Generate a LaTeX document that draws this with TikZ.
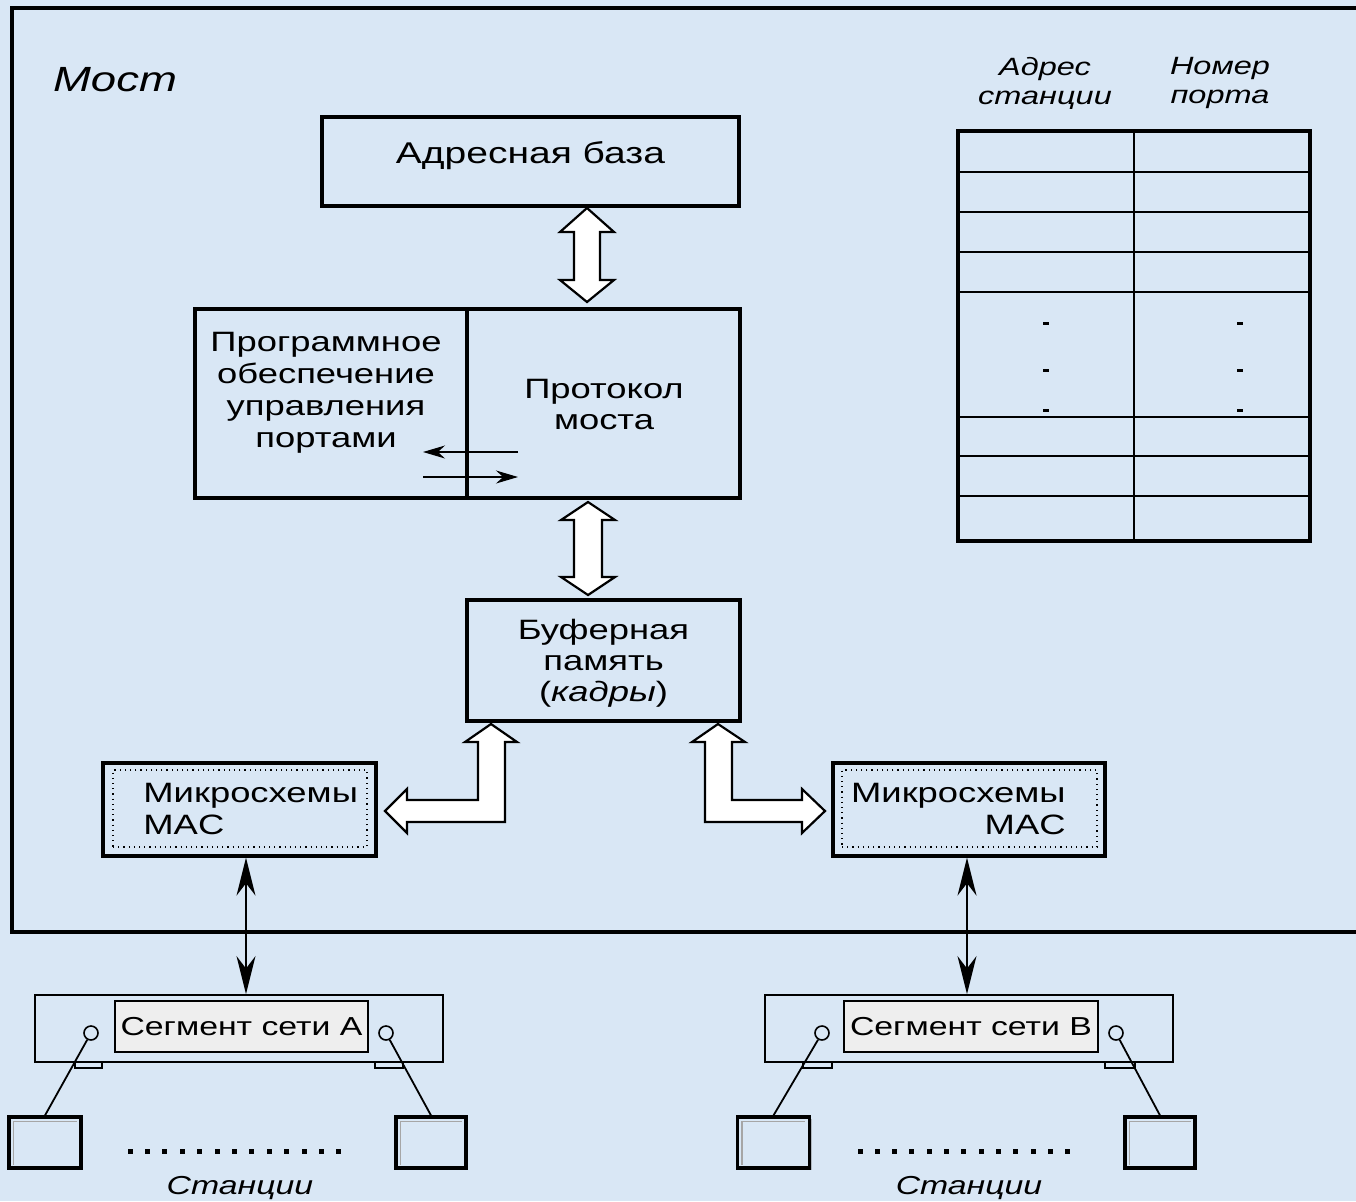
\documentclass[tikz,border=0pt]{standalone}
\usepackage{fontspec}
\setmainfont{Liberation Sans}[FakeStretch=1.3]
\usetikzlibrary{arrows.meta,calc,shadows}
\definecolor{bg}{RGB}{217,231,245}
\definecolor{lblfill}{RGB}{238,238,238}
\begin{document}
\begin{tikzpicture}[x=0.5pt,y=-0.5pt,
  box/.style={draw, line width=1.6pt, inner sep=0pt, align=center},
  txt/.style={inner sep=0pt, align=center, font=\fontsize{14}{16}\selectfont},
  hollow/.style={draw, fill=white, line width=1.1pt, line join=miter},
  dbl/.style={{Stealth[length=19pt,width=9.5pt]}-{Stealth[length=19pt,width=9.5pt]}, line width=1pt},
  small/.style={-{Stealth[length=11pt,width=6.5pt]}, line width=0.6pt},
  seg/.style={draw, line width=0.9pt, fill=bg, inner sep=0pt},
  lbl/.style={draw, line width=0.7pt, fill=lblfill, inner sep=0pt, font=\fontsize{13}{15}\selectfont},
  port/.style={circle, draw, line width=0.8pt, minimum size=7pt, inner sep=0pt},
  station/.style={draw, line width=1.6pt, fill=bg, inner sep=0pt, minimum height=25.5pt,
     drop shadow={shadow xshift=1.2pt, shadow yshift=-1.2pt, opacity=0.45, fill=gray}},
  stub/.style={line width=0.9pt}
]
\fill[bg] (0,0) rectangle (1356,1201);
\useasboundingbox (0,0) rectangle (1356,1201);

% bridge frame
\draw[line width=1.8pt] (1360,8) -- (12,8) -- (12,932) -- (1360,932);
\node[inner sep=0pt, font=\fontsize{17.5}{20}\selectfont\itshape] (title) at (115,80) {Мост};

% address base
\node[box, minimum width=208.5pt, minimum height=44.5pt] (adb) at (530.5,161.5) {};
\node[txt, font=\fontsize{15}{17}\selectfont] (adbt) at (530.5,156) {Адресная база};

% software / protocol
\node[box, minimum width=136pt, minimum height=94.5pt] (sw) at (331,403.5) {};
\node[box, minimum width=136.5pt, minimum height=94.5pt] (proto) at (603.5,403.5) {};
\node[txt] (swt) at (326,393) {Программное\\обеспечение\\управления\\портами};
\node[txt, font=\fontsize{14}{15.5}\selectfont] (protot) at (604,404) {Протокол\\моста};
\coordinate (sa1) at (518,452);
\coordinate (sa2) at (423,452);
\coordinate (sb1) at (423,477);
\coordinate (sb2) at (518,477);
\draw[small] (sa1) -- (sa2);
\draw[small] (sb1) -- (sb2);

% buffer
\node[box, minimum width=136.5pt, minimum height=60.5pt] (buf) at (603.5,660.5) {};
\node[txt, font=\fontsize{14}{15.5}\selectfont] (buft) at (603.5,663) {Буферная\\память\\(\textit{кадры})};

% MAC boxes
\node[box, minimum width=136.5pt, minimum height=46.5pt] (macA) at (239.5,809.5) {};
\node[draw, dotted, line width=0.6pt, minimum width=127pt, minimum height=38.5pt, inner sep=0pt] (macAin) at (240,808.5) {};
\node[txt, anchor=west, align=left] (macAt) at (143,809) {Микросхемы\\MAC};
\node[box, minimum width=136pt, minimum height=46.5pt] (macB) at (969,809.5) {};
\node[draw, dotted, line width=0.6pt, minimum width=127.5pt, minimum height=38.5pt, inner sep=0pt] (macBin) at (969.5,808.5) {};
\node[txt, anchor=east, align=right] (macBt) at (1066,809) {Микросхемы\\MAC};

% hollow double arrows
\draw[hollow] (587,208) -- (614,232) -- (600,232) -- (600,280) -- (614,280) -- (587,302)
   -- (560,280) -- (574,280) -- (574,232) -- (560,232) -- cycle;
\draw[hollow] (588,502) -- (615,520) -- (602,520) -- (602,577) -- (615,577) -- (588,595)
   -- (561,577) -- (574,577) -- (574,520) -- (561,520) -- cycle;
% L-shaped arrows
\draw[hollow] (491,724) -- (517,742) -- (505,742) -- (505,822) -- (407,822) -- (407,833)
   -- (385,811) -- (407,789) -- (407,800) -- (478,800) -- (478,742) -- (465,742) -- cycle;
\draw[hollow] (718,724) -- (745,742) -- (732,742) -- (732,800) -- (802,800) -- (802,789)
   -- (825,811) -- (802,833) -- (802,822) -- (705,822) -- (705,742) -- (692,742) -- cycle;

% segments
\node[seg, minimum width=204pt, minimum height=33.5pt] (segA) at (239,1028.5) {};
\draw[stub] (75,1062) -- (75,1068) -- (102,1068) -- (102,1063);
\draw[stub] (375,1063) -- (375,1068) -- (403,1068) -- (403,1062);
\node[lbl, minimum width=126.5pt, minimum height=25.5pt] (lblA) at (241.5,1026.5) {Сегмент сети А};
\node[seg, minimum width=204pt, minimum height=33.5pt] (segB) at (969,1028.5) {};
\draw[stub] (803,1062) -- (803,1068) -- (832,1068) -- (832,1063);
\draw[stub] (1105,1063) -- (1105,1068) -- (1135,1068) -- (1135,1062);
\node[lbl, minimum width=127pt, minimum height=25.5pt] (lblB) at (971,1026.5) {Сегмент сети В};

% thin double arrows
\coordinate (xa) at (246,0);
\coordinate (xb) at (967,0);
\draw[dbl] (macA.south -| xa) -- (segA.north -| xa);
\draw[dbl] (macB.south -| xb) -- (segB.north -| xb);

% ports and stations
\node[port] (pA1) at (91,1033) {};
\node[port] (pA2) at (386,1033) {};
\node[port] (pB1) at (822,1033) {};
\node[port] (pB2) at (1116,1033) {};
\node[station, minimum width=36pt] (stA1) at (45,1142.5) {};
\node[station, minimum width=35pt] (stA2) at (431,1142.5) {};
\node[station, minimum width=36pt] (stB1) at (773.5,1142.5) {};
\node[station, minimum width=35pt] (stB2) at (1160,1142.5) {};
\foreach \s in {stA1,stA2,stB1,stB2}
  \draw[gray!70, line width=0.6pt] ($(\s.south west)+(6,-5)$) |- ($(\s.north east)+(-6,6)$);
\draw[line width=0.9pt] (pA1) -- (stA1.north);
\draw[line width=0.9pt] (pA2) -- (stA2.north);
\draw[line width=0.9pt] (pB1) -- (stB1.north);
\draw[line width=0.9pt] (pB2) -- (stB2.north);
\foreach \i in {0,...,12} {
  \fill (130+17.4*\i-2.5,1148.5) rectangle ++(5,5);
  \fill (860+17.3*\i-2.5,1148.5) rectangle ++(5,5);
}
\node[inner sep=0pt, font=\fontsize{13}{15}\selectfont\itshape] (stnA) at (240,1188) {Станции};
\node[inner sep=0pt, font=\fontsize{13}{15}\selectfont\itshape] (stnB) at (969,1188) {Станции};

% address table
\node[draw, line width=1.6pt, minimum width=176pt, minimum height=205pt, inner sep=0pt] (tbl) at (1134,336) {};
\draw[line width=0.9pt] (tbl.north) -- (tbl.south);
\foreach \y in {172,212,252,292,417,456,496}
  \draw[line width=0.7pt] (tbl.west |- 0,\y) -- (tbl.east |- 0,\y);
\foreach \y in {323,370,410} {
  \fill (1043,\y-1.5) rectangle (1049,\y+1.5);
  \fill (1237,\y-1.5) rectangle (1243,\y+1.5);
}
\node[inner sep=0pt, align=center, font=\fontsize{12.5}{14.5}\selectfont\itshape] (h1) at (1045,83) {Адрес\\станции};
\node[inner sep=0pt, align=center, font=\fontsize{12.5}{14.5}\selectfont\itshape] (h2) at (1220,83) {Номер\\порта};
\end{tikzpicture}
\end{document}
